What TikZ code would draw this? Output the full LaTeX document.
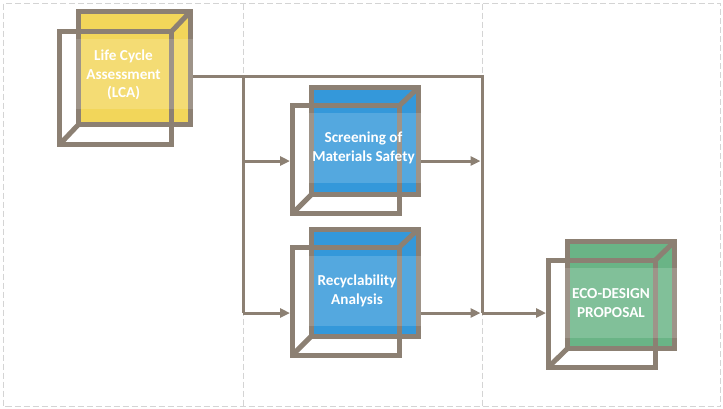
\documentclass[tikz,border=0pt]{standalone}
\usepackage{fontspec}
\setmainfont{Carlito}
\usetikzlibrary{arrows.meta,calc}
\definecolor{frame}{RGB}{140,128,115}
\definecolor{cyellow}{RGB}{242,214,90}
\definecolor{cblue}{RGB}{52,152,218}
\definecolor{cgreen}{RGB}{106,180,134}
\definecolor{gridgrey}{RGB}{212,212,212}
\begin{document}
\begin{tikzpicture}[x=1pt,y=-1pt,
  sq/.style={draw=frame, line width=5pt, outer sep=0pt, inner sep=0pt, line join=miter},
  diag/.style={draw=frame, line width=5pt},
  bandfill/.style={fill=white, fill opacity=0.16},
  lbl/.style={text=white, font=\bfseries\fontsize{15.2}{18.8}\selectfont, align=center, inner sep=0pt},
  conn/.style={draw=frame, line width=3pt},
  arr/.style={conn, -{Triangle[length=10pt,width=9pt]}},
  gridline/.style={draw=gridgrey, line width=1pt, dash pattern=on 6pt off 3pt}]
\useasboundingbox (0,0) rectangle (723,408);
% grid
\draw[gridline] (3.5,3.5) rectangle (720.5,406.5);
\draw[gridline] (243,3.5) -- (243,406.5);
\draw[gridline] (482,3.5) -- (482,406.5);

% junction coordinates
\coordinate (j1) at (482,76);
\coordinate (j2) at (243,76);
\coordinate (j3) at (482,313);
\coordinate (j4) at (243,313);
\coordinate (j5) at (243,161);
\coordinate (j6) at (482,161);

% ---- LCA cube
\node[sq, fill=cyellow, minimum width=112pt, minimum height=113pt] (lcab) at (134.5,68) {};
\node[sq, minimum width=112pt, minimum height=113pt] (lcaf) at (115.5,88) {};
\draw[diag] (lcab.north east) -- (lcaf.north east);
\draw[diag] (lcaf.south west) -- (lcab.south west);
\fill[bandfill] ($(lcab.west)+(-2.5,6-35)$) rectangle ++(117,70);
\node[lbl] (lcat) at (123.5,75) {Life Cycle\\Assessment\\(LCA)};

% ---- Screening cube
\node[sq, fill=cblue, minimum width=107pt, minimum height=107pt] (scrb) at (365,141) {};
\node[sq, minimum width=107pt, minimum height=108pt] (scrf) at (346,159.5) {};
\draw[diag] (scrb.north east) -- (scrf.north east);
\draw[diag] (scrf.south west) -- (scrb.south west);
\fill[bandfill] ($(scrb.west)+(-2.5,7-35)$) rectangle ++(112,70);
\node[lbl] (scrt) at (363.5,148) {Screening of\\Materials Safety};

% ---- Recyclability cube
\node[sq, fill=cblue, minimum width=107pt, minimum height=107pt] (recb) at (365,282.5) {};
\node[sq, minimum width=107pt, minimum height=108pt] (recf) at (346,301) {};
\draw[diag] (recb.north east) -- (recf.north east);
\draw[diag] (recf.south west) -- (recb.south west);
\fill[bandfill] ($(recb.west)+(-2.5,8-35)$) rectangle ++(112,70);
\node[lbl] (rect) at (357,290.5) {Recyclability\\Analysis};

% ---- Eco-design cube
\node[sq, fill=cgreen, minimum width=107pt, minimum height=107pt] (ecob) at (621,295) {};
\node[sq, minimum width=107pt, minimum height=107pt] (ecof) at (602,313.5) {};
\draw[diag] (ecob.north east) -- (ecof.north east);
\draw[diag] (ecof.south west) -- (ecob.south west);
\fill[bandfill] ($(ecob.west)+(-2.5,8-35)$) rectangle ++(112,70);
\node[lbl] (ecot) at (611,303) {ECO-DESIGN\\PROPOSAL};

% ---- connectors
\draw[conn] ($(lcab.east |- j2)+(2.5,0)$) -- (j1) -- (j3);
\draw[conn] (j2) -- (j4);
\draw[arr, shorten >=2.5pt] (j5) -- (scrf.west |- j5);
\draw[arr, shorten >=2.5pt] (j4) -- (recf.west |- j4);
\draw[arr, shorten >=1.5pt] ($(scrb.east |- j6)+(2.5,0)$) -- (j6);
\draw[arr, shorten >=1.5pt] ($(recb.east |- j3)+(2.5,0)$) -- (j3);
\draw[arr, shorten >=2.5pt] (j3) -- (ecof.west |- j3);
\end{tikzpicture}
\end{document}
